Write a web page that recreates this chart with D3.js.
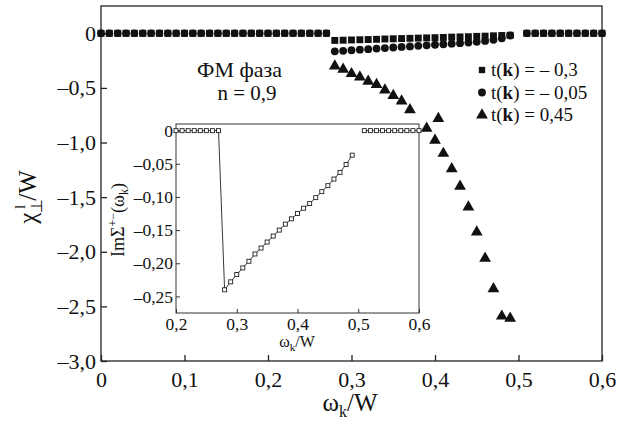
<!DOCTYPE html>
<html>
<head>
<meta charset="utf-8">
<script src="https://cdn.jsdelivr.net/npm/d3@7"></script>
<style>
  body { margin: 0; background: #fff; }
  svg { display: block; }
</style>
</head>
<body>
<div id="chart"></div>
<script>
// --- data ---
const zeroLeftX = [0, 0.01, 0.02, 0.03, 0.04, 0.05, 0.06, 0.07, 0.08, 0.09, 0.10, 0.11, 0.12, 0.13,
  0.14, 0.15, 0.16, 0.17, 0.18, 0.19, 0.20, 0.21, 0.22, 0.23, 0.24, 0.25, 0.26, 0.27];
const zeroRightX = [0.51, 0.52, 0.53, 0.54, 0.55, 0.56, 0.57, 0.58, 0.59, 0.60];

const omegaX = [0.28, 0.29, 0.30, 0.31, 0.32, 0.33, 0.34, 0.35, 0.36, 0.37, 0.38,
  0.39, 0.40, 0.41, 0.42, 0.43, 0.44, 0.45, 0.46, 0.47, 0.48, 0.49];
const chiSquare = [-0.065, -0.063, -0.061, -0.059, -0.057, -0.055, -0.052, -0.050, -0.048, -0.046, -0.044,
  -0.042, -0.040, -0.038, -0.035, -0.033, -0.031, -0.028, -0.026, -0.023, -0.020, -0.018];
const chiCircle = [-0.165, -0.16, -0.155, -0.15, -0.145, -0.14, -0.135, -0.13, -0.125, -0.12, -0.115,
  -0.11, -0.105, -0.10, -0.095, -0.09, -0.085, -0.078, -0.07, -0.06, -0.045, -0.02];
// triangle at 0.38 is drawn displaced in the original figure
const triX = [0.28, 0.29, 0.30, 0.31, 0.32, 0.33, 0.34, 0.35, 0.36, 0.37, 0.404,
  0.39, 0.40, 0.41, 0.42, 0.43, 0.44, 0.45, 0.46, 0.47, 0.48, 0.49];
const chiTriangle = [-0.30, -0.33, -0.37, -0.40, -0.44, -0.47, -0.52, -0.57, -0.62, -0.70, -0.78,
  -0.87, -0.98, -1.10, -1.24, -1.40, -1.59, -1.82, -2.06, -2.34, -2.59, -2.61];

const insetLeftX = [0.20, 0.21, 0.22, 0.23, 0.24, 0.25, 0.26, 0.27];
const imSigma = [-0.240, -0.228, -0.217, -0.207, -0.197, -0.186, -0.177, -0.168, -0.159, -0.150, -0.141,
  -0.133, -0.125, -0.117, -0.110, -0.101, -0.092, -0.083, -0.073, -0.063, -0.051, -0.037];

const xTicks = [0, 0.1, 0.2, 0.3, 0.4, 0.5, 0.6];
const yTicks = [0, -0.5, -1.0, -1.5, -2.0, -2.5, -3.0];
const insetXTicks = [0.2, 0.3, 0.4, 0.5, 0.6];
const insetYTicks = [0, -0.05, -0.10, -0.15, -0.20, -0.25];
const legendLabels = ['– 0,3', '– 0,05', '0,45'];

const W = 621, H = 425;
const FONT = 'Liberation Serif';
const svg = d3.select('#chart').append('svg')
  .attr('width', W).attr('height', H)
  .attr('font-family', FONT);

// comma decimal formatting
const fmt = (d, digits) => d === 0 ? '0' : (d < 0 ? '–' : '') + Math.abs(d).toFixed(digits).replace('.', ',');

// --- main plot ---
const x = d3.scaleLinear().domain([0, 0.6]).range([101, 602]);
const y = d3.scaleLinear().domain([-3, 0.25]).range([361, 6]);

svg.append('rect')
  .attr('x', 101).attr('y', 6).attr('width', 501).attr('height', 355)
  .attr('fill', 'none').attr('stroke', '#222').attr('stroke-width', 1.3);

const gx = svg.append('g').attr('transform', 'translate(0,361)')
  .call(d3.axisBottom(x).tickValues(xTicks).tickSize(-6).tickPadding(10).tickFormat(d => fmt(d, 1)));
const gy = svg.append('g').attr('transform', 'translate(101,0)')
  .call(d3.axisLeft(y).tickValues(yTicks).tickSize(-6).tickPadding(5).tickFormat(d => fmt(d, 1)));
[gx, gy].forEach(g => {
  g.attr('font-family', FONT);
  g.select('.domain').remove();
  g.selectAll('line').attr('stroke', '#222').attr('stroke-width', 1.3);
  g.selectAll('text').attr('font-family', FONT).attr('font-size', 22).attr('fill', '#111');
});
gx.selectAll('text').attr('dy', '0.71em');

// zero band: all series sit on zero outside the gap
const zeroX = zeroLeftX.concat(zeroRightX);
svg.append('g').selectAll('rect').data(zeroX).enter().append('rect')
  .attr('x', d => x(d) - 3.5).attr('y', y(0) - 3.5).attr('width', 7).attr('height', 7).attr('fill', '#111');
svg.append('g').selectAll('circle').data(zeroX).enter().append('circle')
  .attr('cx', d => x(d)).attr('cy', y(0)).attr('r', 3.8).attr('fill', '#111');

const sym = (type, size) => d3.symbol().type(type).size(size)();
svg.append('g').selectAll('path').data(omegaX).enter().append('path')
  .attr('transform', (d, i) => `translate(${x(d)},${y(chiSquare[i])})`)
  .attr('d', sym(d3.symbolSquare, 48)).attr('fill', '#111');
svg.append('g').selectAll('path').data(omegaX).enter().append('path')
  .attr('transform', (d, i) => `translate(${x(d)},${y(chiCircle[i])})`)
  .attr('d', sym(d3.symbolCircle, 48)).attr('fill', '#111');
svg.append('g').selectAll('path').data(triX).enter().append('path')
  .attr('transform', (d, i) => `translate(${x(d)},${y(chiTriangle[i])})`)
  .attr('d', sym(d3.symbolTriangle, 60)).attr('fill', '#111');

// axis titles
const ylab = svg.append('text').attr('transform', 'translate(36,197) rotate(-90)')
  .attr('font-family', FONT).attr('text-anchor', 'middle').attr('font-size', 25).attr('fill', '#111');
ylab.append('tspan').text('χ');
ylab.append('tspan').attr('font-size', 16).attr('dy', 6).text('⊥');
ylab.append('tspan').attr('font-size', 14).attr('dx', -10).attr('dy', -17).text('l');
ylab.append('tspan').attr('dx', 4).attr('dy', 11).text('/W');

const xlab = svg.append('text').attr('x', 350).attr('y', 411)
  .attr('font-family', FONT).attr('text-anchor', 'middle').attr('font-size', 25).attr('fill', '#111');
xlab.append('tspan').text('ω');
xlab.append('tspan').attr('font-size', 16).attr('dy', 6).text('k');
xlab.append('tspan').attr('dy', -6).text('/W');

// annotations
svg.append('text').attr('x', 197).attr('y', 77).attr('font-family', FONT)
  .attr('font-size', 22).attr('fill', '#111').text('ФМ фаза');
svg.append('text').attr('x', 247).attr('y', 100).attr('text-anchor', 'middle').attr('font-family', FONT)
  .attr('font-size', 21).attr('fill', '#111').text('n = 0,9');

// legend
const legendTypes = [d3.symbolSquare, d3.symbolCircle, d3.symbolTriangle];
const legendSizes = [40, 48, 60];
legendLabels.forEach((lab, i) => {
  const cy = 70 + i * 22.5;
  svg.append('path').attr('transform', `translate(482,${cy})`)
    .attr('d', sym(legendTypes[i], legendSizes[i])).attr('fill', '#111');
  const t = svg.append('text').attr('x', 491).attr('y', cy + 6).attr('font-family', FONT)
    .attr('font-size', 19).attr('fill', '#111');
  t.append('tspan').text('t(');
  t.append('tspan').attr('font-weight', 'bold').text('k');
  t.append('tspan').text(') = ' + lab);
});

// --- inset ---
const xi = d3.scaleLinear().domain([0.2, 0.6]).range([176, 419]);
const yi = d3.scaleLinear().domain([-0.275, 0.01]).range([313, 124]);

svg.append('rect')
  .attr('x', 176).attr('y', 124).attr('width', 243).attr('height', 189)
  .attr('fill', '#fff').attr('stroke', '#333').attr('stroke-width', 1);

const gxi = svg.append('g').attr('transform', 'translate(0,313)')
  .call(d3.axisBottom(xi).tickValues(insetXTicks).tickSize(-4).tickPadding(5).tickFormat(d => fmt(d, 1)));
const gyi = svg.append('g').attr('transform', 'translate(176,0)')
  .call(d3.axisLeft(yi).tickValues(insetYTicks).tickSize(-4).tickPadding(3).tickFormat(d => fmt(d, 2)));
[gxi, gyi].forEach(g => {
  g.attr('font-family', FONT);
  g.select('.domain').remove();
  g.selectAll('line').attr('stroke', '#333');
  g.selectAll('text').attr('font-family', FONT).attr('font-size', 17.5).attr('fill', '#111');
});

const leftPts = insetLeftX.map(d => [d, 0]).concat(omegaX.map((d, i) => [d, imSigma[i]]));
const rightPts = zeroRightX.map(d => [d, 0]);
const line = d3.line().x(d => xi(d[0])).y(d => yi(d[1]));
[leftPts, rightPts].forEach(pts => {
  svg.append('path').attr('d', line(pts)).attr('fill', 'none').attr('stroke', '#222').attr('stroke-width', 0.9);
  svg.append('g').selectAll('rect').data(pts).enter().append('rect')
    .attr('x', d => xi(d[0]) - 2).attr('y', d => yi(d[1]) - 2).attr('width', 4).attr('height', 4)
    .attr('fill', '#fff').attr('stroke', '#222').attr('stroke-width', 0.9);
});

const yil = svg.append('text').attr('transform', 'translate(124,220) rotate(-90)')
  .attr('font-family', FONT).attr('text-anchor', 'middle').attr('font-size', 18).attr('fill', '#111');
yil.append('tspan').text('ImΣ');
yil.append('tspan').attr('font-size', 12).attr('dy', -7).text('+−');
yil.append('tspan').attr('dy', 7).text('(ω');
yil.append('tspan').attr('font-size', 12).attr('dy', 4).text('k');
yil.append('tspan').attr('dy', -4).text(')');

const xil = svg.append('text').attr('x', 297).attr('y', 347)
  .attr('font-family', FONT).attr('text-anchor', 'middle').attr('font-size', 16).attr('fill', '#111');
xil.append('tspan').text('ω');
xil.append('tspan').attr('font-size', 11).attr('dy', 4).text('k');
xil.append('tspan').attr('dy', -4).text('/W');
</script>
</body>
</html>
